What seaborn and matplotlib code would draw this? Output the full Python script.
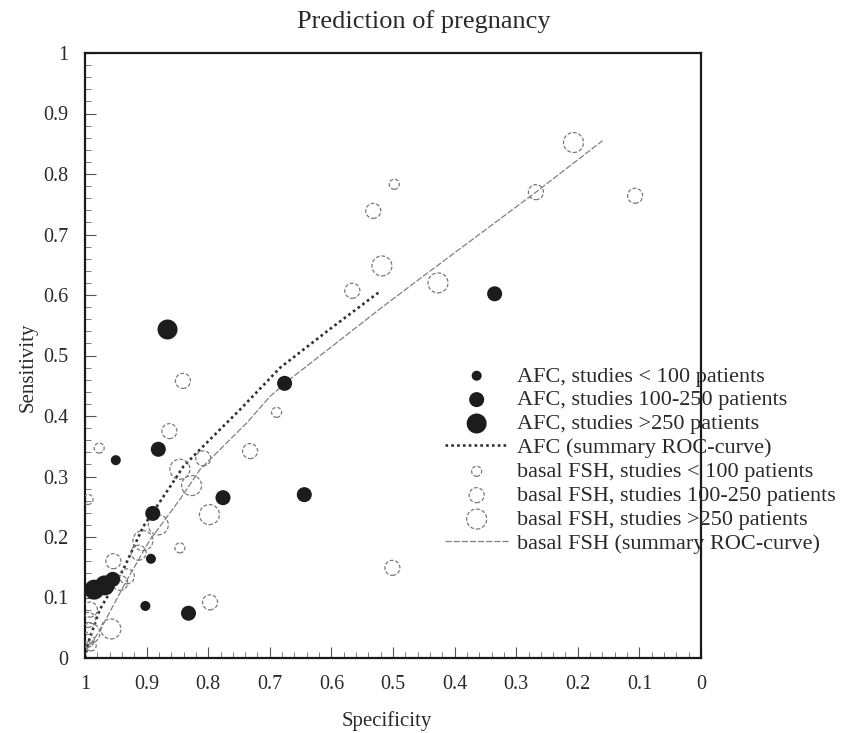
import numpy as np
import pandas as pd
import matplotlib
matplotlib.use("Agg")
import matplotlib.pyplot as plt
from matplotlib.ticker import MultipleLocator
import seaborn as sns

# ---------------- data ----------------
afc_small_spec = [0.950, 0.893, 0.902]
afc_small_sens = [0.327, 0.164, 0.086]
afc_med_spec = [0.881, 0.890, 0.776, 0.676, 0.644, 0.335, 0.832, 0.955]
afc_med_sens = [0.345, 0.239, 0.265, 0.454, 0.270, 0.602, 0.074, 0.130]
afc_large_spec = [0.866, 0.985, 0.968]
afc_large_sens = [0.543, 0.113, 0.120]

fsh_small_spec = [0.498, 0.977, 0.689, 0.995, 0.846, 0.990]
fsh_small_sens = [0.783, 0.347, 0.406, 0.262, 0.182, 0.020]
fsh_med_spec = [0.268, 0.107, 0.532, 0.566, 0.841, 0.863, 0.732, 0.808, 0.913,
                0.954, 0.943, 0.932, 0.797, 0.501, 0.992, 0.995, 0.997]
fsh_med_sens = [0.770, 0.764, 0.739, 0.607, 0.458, 0.375, 0.342, 0.330, 0.174,
                0.160, 0.124, 0.135, 0.092, 0.149, 0.080, 0.063, 0.030]
fsh_large_spec = [0.207, 0.518, 0.427, 0.846, 0.827, 0.798, 0.881, 0.906, 0.958, 0.992]
fsh_large_sens = [0.852, 0.648, 0.620, 0.312, 0.285, 0.237, 0.220, 0.194, 0.048, 0.041]

afc_roc_spec = [1.0, 0.995, 0.976, 0.938, 0.905, 0.862, 0.840, 0.813, 0.748, 0.683, 0.602, 0.521]
afc_roc_sens = [0.0, 0.025, 0.080, 0.146, 0.218, 0.283, 0.317, 0.345, 0.411, 0.480, 0.544, 0.606]
fsh_roc_spec = [1.0, 0.976, 0.932, 0.894, 0.846, 0.813, 0.737, 0.699, 0.667, 0.574, 0.520, 0.455, 0.268, 0.160]
fsh_roc_sens = [0.010, 0.045, 0.129, 0.196, 0.262, 0.312, 0.389, 0.433, 0.461, 0.535, 0.578, 0.628, 0.770, 0.855]

title = "Prediction of pregnancy"
xlabel = "Specificity"
ylabel = "Sensitivity"
tick_values = [0, 0.1, 0.2, 0.3, 0.4, 0.5, 0.6, 0.7, 0.8, 0.9, 1]
tick_labels = ["0", "0.1", "0.2", "0.3", "0.4", "0.5", "0.6", "0.7", "0.8", "0.9", "1"]

# ---------------- style ----------------
sns.set_style("white")
plt.rcParams['font.family'] = ['Liberation Serif', 'DejaVu Serif']
TXT = '#2a2a2a'

fig = plt.figure(figsize=(8.52, 7.33), dpi=100)
ax = fig.add_axes([85/852, 1 - 658/733, 616/852, 605/733])

s_small, s_med, s_large = 52, 117, 207
open_kw = dict(facecolor='none', edgecolor='#7a7a7a', linewidth=0.9, linestyle=(0, (3, 1.5)))
fill_kw = dict(color='#1c1c1c', edgecolor='none')

def pts(x, y):
    return pd.DataFrame({'spec': x, 'sens': y})

# open FSH circles
sns.scatterplot(data=pts(fsh_small_spec, fsh_small_sens), x='spec', y='sens', ax=ax,
                s=s_small, label='basal FSH, studies < 100 patients', zorder=3, **open_kw)
sns.scatterplot(data=pts(fsh_med_spec, fsh_med_sens), x='spec', y='sens', ax=ax,
                s=s_med, label='basal FSH, studies 100-250 patients', zorder=3, **open_kw)
sns.scatterplot(data=pts(fsh_large_spec, fsh_large_sens), x='spec', y='sens', ax=ax,
                s=s_large, label='basal FSH, studies >250 patients', zorder=3, **open_kw)

# filled AFC dots
sns.scatterplot(data=pts(afc_small_spec, afc_small_sens), x='spec', y='sens', ax=ax,
                s=s_small, label='AFC, studies < 100 patients', zorder=4, **fill_kw)
sns.scatterplot(data=pts(afc_med_spec, afc_med_sens), x='spec', y='sens', ax=ax,
                s=s_med, label='AFC, studies 100-250 patients', zorder=4, **fill_kw)
sns.scatterplot(data=pts(afc_large_spec, afc_large_sens), x='spec', y='sens', ax=ax,
                s=s_large, label='AFC, studies >250 patients', zorder=4, **fill_kw)

# summary ROC curves
sns.lineplot(data=pts(afc_roc_spec, afc_roc_sens), x='spec', y='sens', ax=ax, sort=False,
             estimator=None, color='#303030', linewidth=1.9, linestyle=(0, (1, 1.2)),
             label='AFC (summary ROC-curve)', zorder=2)
sns.lineplot(data=pts(fsh_roc_spec, fsh_roc_sens), x='spec', y='sens', ax=ax, sort=False,
             estimator=None, color='#808080', linewidth=0.9, linestyle=(0, (5, 1.5)),
             label='basal FSH (summary ROC-curve)', zorder=2)

# ---------------- axes ----------------
ax.set_xlim(1, 0)
ax.set_ylim(0, 1)
ax.set_xticks(tick_values)
ax.set_xticklabels(tick_labels)
ax.set_yticks(tick_values)
ax.set_yticklabels(tick_labels)
ax.xaxis.set_minor_locator(MultipleLocator(0.02))
ax.yaxis.set_minor_locator(MultipleLocator(0.02))
ax.tick_params(which='both', bottom=True, left=True, top=False, right=False)
ax.tick_params(which='major', direction='in', length=8, width=0.8, color='#555555',
               labelsize=14.5, labelcolor=TXT, pad=12)
ax.tick_params(which='minor', direction='in', length=4, width=0.6, color='#666666')
for sp in ax.spines.values():
    sp.set_visible(True)
    sp.set_color('#1a1a1a')
    sp.set_linewidth(1.6)

ax.set_xlabel(xlabel, fontsize=15, color=TXT)
ax.set_ylabel(ylabel, fontsize=15, color=TXT)
ax.xaxis.set_label_coords(0.49, -0.104)
ax.yaxis.set_label_coords(-0.093, 0.48)
ax.xaxis.label.set_va('center')
ax.yaxis.label.set_va('center')
fig.text(424/852, 1 - 22/733, title, ha='center', va='center', fontsize=19, color=TXT)

# ---------------- legend ----------------
handles, labels = ax.get_legend_handles_labels()
order = ['AFC, studies < 100 patients', 'AFC, studies 100-250 patients',
         'AFC, studies >250 patients', 'AFC (summary ROC-curve)',
         'basal FSH, studies < 100 patients', 'basal FSH, studies 100-250 patients',
         'basal FSH, studies >250 patients', 'basal FSH (summary ROC-curve)']
hmap = dict(zip(labels, handles))
leg = ax.legend([hmap[k] for k in order], order, loc='upper left',
                bbox_to_anchor=(445/852, 1 - 366/733), bbox_transform=fig.transFigure,
                frameon=False, fontsize=16, labelspacing=0.15, handlelength=2.85,
                handletextpad=0.4, borderpad=0, borderaxespad=0, labelcolor=TXT)

fig.savefig("out.png", dpi=100)
